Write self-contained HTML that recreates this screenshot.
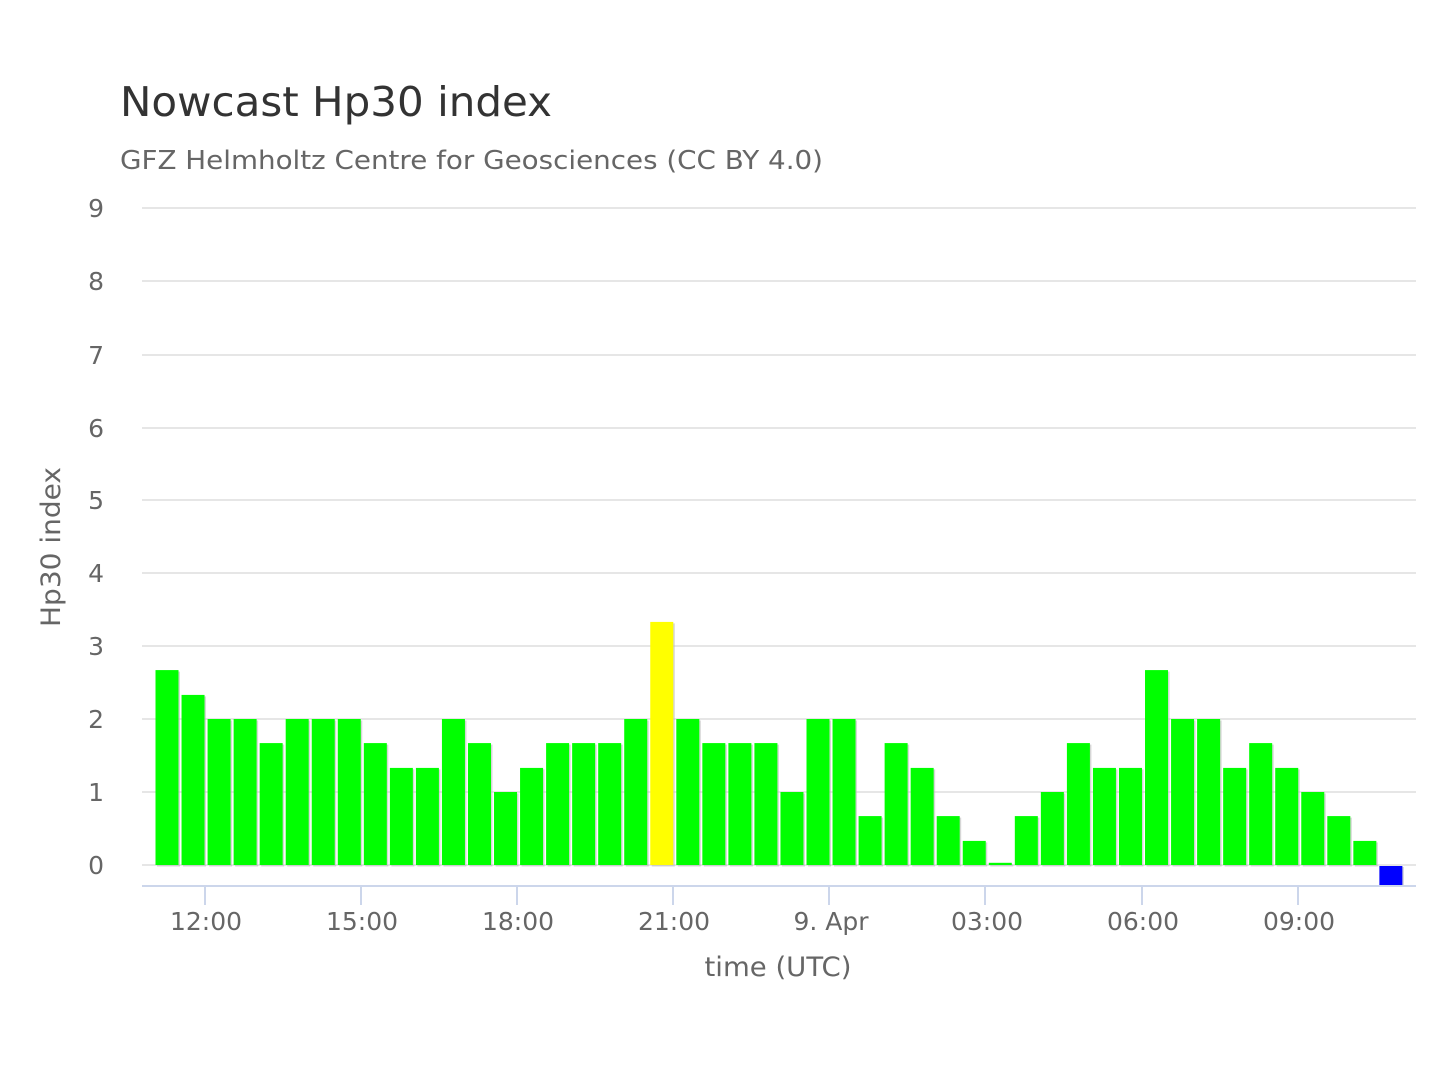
<!DOCTYPE html>
<html><head><meta charset="utf-8"><style>
body{margin:0;background:#fff;}
svg{display:block;font-family:"DejaVu Sans","Liberation Sans",sans-serif;}
</style></head><body>
<svg width="1440" height="1080" viewBox="0 0 1440 1080">
<text x="120" y="116" font-size="41" fill="#333" textLength="432" lengthAdjust="spacingAndGlyphs">Nowcast Hp30 index</text>
<text x="120" y="169" font-size="26" fill="#666" textLength="703" lengthAdjust="spacingAndGlyphs">GFZ Helmholtz Centre for Geosciences (CC BY 4.0)</text>
<g stroke="#e6e6e6" stroke-width="2">
<line x1="142" x2="1416" y1="208" y2="208"/><line x1="142" x2="1416" y1="281" y2="281"/>
<line x1="142" x2="1416" y1="355" y2="355"/><line x1="142" x2="1416" y1="428" y2="428"/>
<line x1="142" x2="1416" y1="500" y2="500"/><line x1="142" x2="1416" y1="573" y2="573"/>
<line x1="142" x2="1416" y1="646" y2="646"/><line x1="142" x2="1416" y1="719" y2="719"/>
<line x1="142" x2="1416" y1="792" y2="792"/><line x1="142" x2="1416" y1="865" y2="865"/>
</g>
<g font-size="25" fill="#666" text-anchor="end">
<text x="104" y="217">9</text><text x="104" y="290">8</text><text x="104" y="364">7</text>
<text x="104" y="437">6</text><text x="104" y="509">5</text><text x="104" y="582">4</text>
<text x="104" y="655">3</text><text x="104" y="728">2</text><text x="104" y="801">1</text>
<text x="104" y="874">0</text>
</g>
<text transform="translate(60,547) rotate(-90)" font-size="27" fill="#666" text-anchor="middle" textLength="160" lengthAdjust="spacingAndGlyphs">Hp30 index</text>
<g id="bars"></g>
<line x1="142" x2="1416" y1="886" y2="886" stroke="#ccd6eb" stroke-width="2"/>
<g stroke="#ccd6eb" stroke-width="2">
<line x1="205" x2="205" y1="886" y2="905"/><line x1="361" x2="361" y1="886" y2="905"/>
<line x1="517" x2="517" y1="886" y2="905"/><line x1="673" x2="673" y1="886" y2="905"/>
<line x1="829" x2="829" y1="886" y2="905"/><line x1="985" x2="985" y1="886" y2="905"/>
<line x1="1142" x2="1142" y1="886" y2="905"/><line x1="1298" x2="1298" y1="886" y2="905"/>
</g>
<g font-size="25" fill="#666" text-anchor="middle">
<text x="206" y="930">12:00</text><text x="362" y="930">15:00</text><text x="518" y="930">18:00</text>
<text x="674" y="930">21:00</text><text x="831" y="930">9. Apr</text><text x="987" y="930">03:00</text>
<text x="1143" y="930">06:00</text><text x="1299" y="930">09:00</text>
</g>
<text x="778" y="976" font-size="27" fill="#666" text-anchor="middle" textLength="147" lengthAdjust="spacingAndGlyphs">time (UTC)</text>
</svg>
<script>
var v=[2.67,2.33,2,2,1.67,2,2,2,1.67,1.33,1.33,2,1.67,1,1.33,1.67,1.67,1.67,2,3.33,2,1.67,1.67,1.67,1,2,2,0.67,1.67,1.33,0.67,0.33,0.03,0.67,1,1.67,1.33,1.33,2.67,2,2,1.33,1.67,1.33,1,0.67,0.33];
var g=document.getElementById('bars'),h='';
for(var i=0;i<v.length;i++){var x=155.5+i*26.04,y=865-v[i]*73,c=i==19?'#ffff00':'#00ff00';
h+='<rect x="'+(x+1.5)+'" y="'+(y+1.5)+'" width="23" height="'+(865-y)+'" fill="#bbb" opacity="0.6"/>';
h+='<rect x="'+x+'" y="'+y+'" width="23" height="'+(865-y)+'" fill="'+c+'"/>';}
var x=155.5+47*26.04;
h+='<rect x="'+(x+1.5)+'" y="867" width="23" height="19" fill="#bbb" opacity="0.6"/>';
h+='<rect x="'+x+'" y="866" width="23" height="19" fill="#0000ff"/>';
g.innerHTML=h;
</script>
</body></html>
